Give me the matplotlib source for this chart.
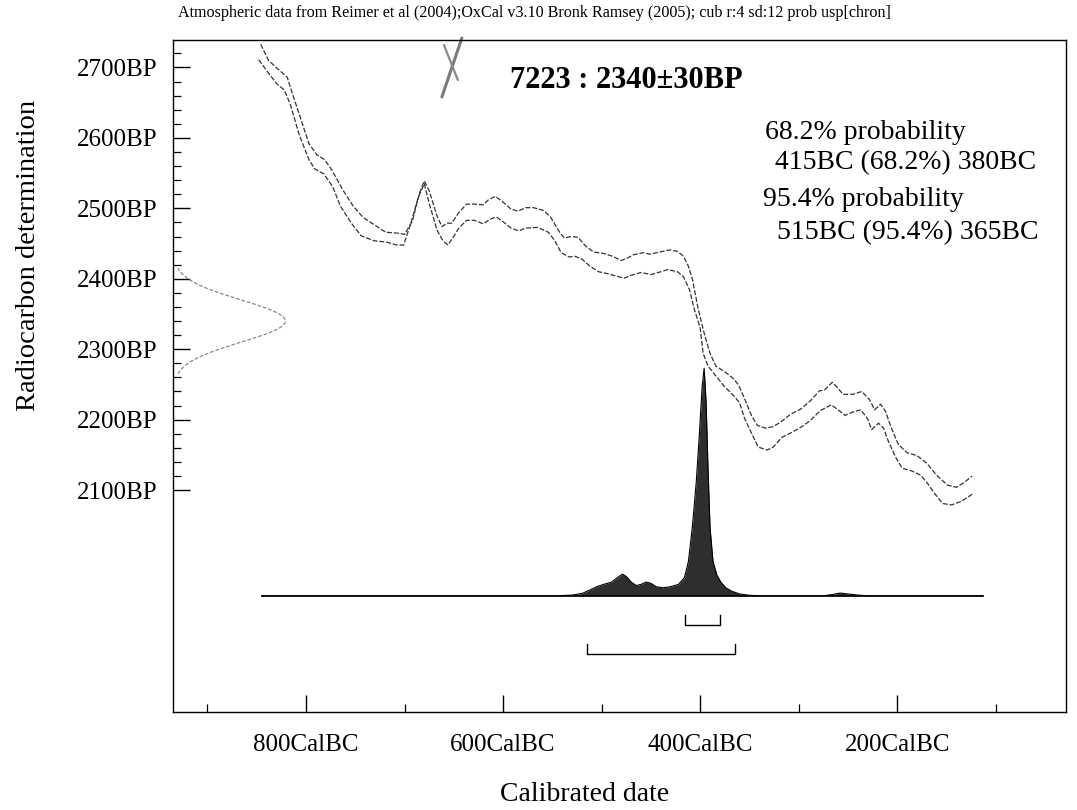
import numpy as np
import matplotlib
matplotlib.use("Agg")
import matplotlib.pyplot as plt
from matplotlib.ticker import FixedLocator, FuncFormatter

plt.rcParams['font.family'] = ['Liberation Serif', 'DejaVu Serif']

# ---------------- data ----------------
sample_label = "7223 : 2340\u00b130BP"
c14_mean = 2340
c14_sd = 30

# calibration curve, +1 sigma edge (cal BC, BP)
curve_hi_bc = [846, 838, 827, 819, 815, 806, 797, 789, 781, 774, 763, 752, 742, 730, 719, 708, 700, 692, 685, 680,
               675, 667, 662, 657, 652, 645, 637, 629, 620, 615, 608, 601, 592, 585, 577, 569, 559, 552, 543, 538,
               531, 524, 516, 508, 498, 489, 480, 473, 468, 458, 451, 441, 431, 423, 417, 412, 408, 402, 396, 390,
               384, 374, 366, 361, 355, 348, 342, 334, 326, 318, 308, 298, 288, 279, 274, 266, 261, 255, 245, 236,
               228, 223, 217, 212, 206, 199, 190, 180, 170, 160, 149, 140, 132, 124]
curve_hi_bp = [2733, 2710, 2696, 2686, 2668, 2630, 2592, 2576, 2569, 2555, 2527, 2503, 2487, 2476, 2466, 2465, 2463, 2482, 2521, 2539,
               2525, 2489, 2474, 2479, 2479, 2494, 2506, 2506, 2505, 2512, 2517, 2510, 2499, 2496, 2501, 2501, 2497, 2488, 2467, 2458,
               2460, 2459, 2446, 2438, 2436, 2432, 2426, 2430, 2434, 2437, 2435, 2438, 2441, 2439, 2432, 2418, 2400, 2357, 2323, 2294,
               2276, 2267, 2258, 2249, 2230, 2206, 2192, 2188, 2190, 2197, 2208, 2215, 2227, 2241, 2242, 2253, 2246, 2236, 2236, 2240,
               2228, 2214, 2222, 2212, 2188, 2165, 2153, 2149, 2138, 2121, 2107, 2104, 2111, 2120]

# calibration curve, -1 sigma edge (cal BC, BP)
curve_lo_bc = [848, 837, 829, 822, 816, 807, 797, 791, 782, 773, 765, 754, 744, 731, 718, 708, 701, 694, 686, 680,
               675, 667, 661, 656, 651, 645, 637, 629, 620, 614, 607, 600, 592, 584, 577, 565, 554, 548, 541, 533,
               527, 520, 512, 503, 493, 483, 477, 470, 460, 450, 440, 433, 423, 417, 411, 406, 400, 397, 392, 384,
               376, 366, 360, 355, 347, 341, 332, 326, 317, 307, 297, 288, 278, 267, 260, 253, 245, 237, 230, 226,
               219, 214, 209, 201, 195, 185, 176, 169, 162, 154, 145, 135, 124]
curve_lo_bp = [2711, 2690, 2676, 2668, 2648, 2605, 2569, 2556, 2549, 2531, 2503, 2479, 2461, 2454, 2452, 2448, 2448, 2477, 2516, 2535,
               2507, 2469, 2454, 2448, 2458, 2472, 2483, 2483, 2478, 2484, 2488, 2481, 2472, 2468, 2472, 2473, 2466, 2455, 2437, 2431,
               2432, 2428, 2418, 2410, 2407, 2403, 2401, 2405, 2409, 2406, 2410, 2413, 2410, 2403, 2385, 2357, 2330, 2294, 2276, 2262,
               2248, 2234, 2224, 2202, 2178, 2161, 2157, 2161, 2175, 2182, 2190, 2199, 2213, 2221, 2214, 2206, 2211, 2214, 2201, 2186,
               2195, 2188, 2169, 2145, 2131, 2127, 2121, 2109, 2095, 2081, 2079, 2084, 2094]

# calibrated probability distribution (cal BC, relative probability)
dist_bc = [845, 545, 530, 520, 512, 505, 498, 490, 484, 479, 475, 470, 465, 460, 455, 450, 445, 438, 430, 422,
           416, 412, 408, 404, 401, 398, 396, 394, 392, 390, 387, 383, 379, 374, 368, 360, 350, 340, 275, 265,
           258, 250, 240, 230, 113]
dist_prob = [0, 0, 0.003, 0.01, 0.025, 0.04, 0.05, 0.06, 0.08, 0.095, 0.085, 0.06, 0.045, 0.05, 0.06, 0.055, 0.04, 0.035, 0.04, 0.05,
             0.08, 0.15, 0.3, 0.5, 0.7, 0.92, 1.0, 0.85, 0.55, 0.3, 0.15, 0.09, 0.06, 0.035, 0.02, 0.008, 0.002, 0, 0, 0.006,
             0.012, 0.008, 0.003, 0, 0]

range68 = (415, 380)
range95 = (515, 365)

ytick_major = [2100, 2200, 2300, 2400, 2500, 2600, 2700]
ytick_minor = [v for v in range(2120, 2740, 20) if v % 100 != 0]
xtick_major = [800, 600, 400, 200]
xtick_minor = [900, 700, 500, 300, 100]

# ---------------- layout / style ----------------
x_lim = (-935, -29)
y_lim = (1785, 2739)
dist_base = 1950
dist_height = 323
normal_width = 114
bracket68_y = 1908
bracket95_y = 1867
bracket_tick = 14

fig = plt.figure(figsize=(10.77, 8.10), dpi=100)
ax = fig.add_axes([0.1606, 0.121, 0.829, 0.8296])
ax.set_xlim(*x_lim)
ax.set_ylim(*y_lim)

# calibration curve
ax.plot([-b for b in curve_hi_bc], curve_hi_bp, color='#333333', lw=0.9, dashes=(4, 1.5))
ax.plot([-b for b in curve_lo_bc], curve_lo_bp, color='#333333', lw=0.9, dashes=(4, 1.5))

# radiocarbon determination (normal curve on y axis)
yy = np.linspace(c14_mean - 2.5 * c14_sd, c14_mean + 2.5 * c14_sd, 300)
xx = x_lim[0] + normal_width * np.exp(-0.5 * ((yy - c14_mean) / c14_sd) ** 2)
ax.plot(xx, yy, color='#8a8a8a', lw=0.9, dashes=(3, 1.5))

# calibrated distribution
dx = np.array([-b for b in dist_bc], dtype=float)
dy = dist_base + dist_height * np.array(dist_prob)
ax.fill_between(dx, dist_base, dy, color='#2e2e2e', lw=0)
ax.plot(dx, dy, color='black', lw=0.8)
ax.plot([-dist_bc[0], -dist_bc[-1]], [dist_base, dist_base], color='black', lw=1.2)

# range brackets
for (a, b), yb in ((range68, bracket68_y), (range95, bracket95_y)):
    ax.plot([-a, -a, -b, -b], [yb + bracket_tick, yb, yb, yb + bracket_tick], color='black', lw=1.0)

# hand-drawn pen mark on the printout
ax.plot([0.3236, 0.3012], [1.003, 0.9152], transform=ax.transAxes, color='#7a7a7a', lw=2.2, clip_on=False,
        solid_capstyle='round')
ax.plot([0.3035, 0.3191], [0.9926, 0.9405], transform=ax.transAxes, color='#8a8a8a', lw=1.6, clip_on=False,
        solid_capstyle='round')

# axes styling
for s in ax.spines.values():
    s.set_linewidth(1.0)
ax.yaxis.set_major_locator(FixedLocator(ytick_major))
ax.yaxis.set_minor_locator(FixedLocator(ytick_minor))
ax.xaxis.set_major_locator(FixedLocator([-v for v in xtick_major]))
ax.xaxis.set_minor_locator(FixedLocator([-v for v in xtick_minor]))
ax.yaxis.set_major_formatter(FuncFormatter(lambda v, p: f"{int(v)}BP"))
ax.xaxis.set_major_formatter(FuncFormatter(lambda v, p: f"{int(-v)}CalBC"))
ax.tick_params(axis='both', which='major', direction='in', length=12, width=1.0, labelsize=18)
ax.tick_params(axis='both', which='minor', direction='in', length=6, width=0.9)
ax.tick_params(axis='y', which='major', pad=11)
ax.tick_params(axis='x', which='major', pad=16)

ax.set_ylabel("Radiocarbon determination", fontsize=20.5)
ax.yaxis.set_label_coords(-0.148, 0.68)
ax.set_xlabel("Calibrated date", fontsize=20)
ax.xaxis.set_label_coords(0.461, -0.104)

fig.text(0.165, 0.984, "Atmospheric data from Reimer et al (2004);OxCal v3.10 Bronk Ramsey (2005); cub r:4 sd:12 prob usp[chron]",
         fontsize=11.6, ha='left', va='center')

ax.text(0.508, 0.94, sample_label, transform=ax.transAxes, fontsize=22, fontweight='bold', ha='center', va='center')
ax.text(0.663, 0.862, "68.2% probability", transform=ax.transAxes, fontsize=20, ha='left', va='center')
ax.text(0.674, 0.818, f"{range68[0]}BC (68.2%) {range68[1]}BC", transform=ax.transAxes, fontsize=20, ha='left', va='center')
ax.text(0.661, 0.762, "95.4% probability", transform=ax.transAxes, fontsize=20, ha='left', va='center')
ax.text(0.676, 0.713, f"{range95[0]}BC (95.4%) {range95[1]}BC", transform=ax.transAxes, fontsize=20, ha='left', va='center')

fig.savefig("out.png", dpi=100)
